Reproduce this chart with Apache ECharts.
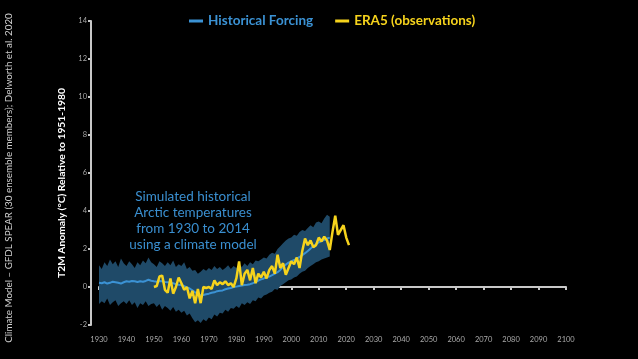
<!DOCTYPE html>
<html>
<head>
<meta charset="utf-8">
<script src="https://cdn.jsdelivr.net/npm/echarts@6/dist/echarts.min.js"></script>
<style>html,body{margin:0;padding:0;background:#000;}#c{width:638px;height:359px;}</style>
</head>
<body>
<div id="c"></div>
<script>
// ---- Data ----
var modelStartYear = 1930;
var modelMean = [
  0.22,0.20,0.25,0.18,0.22,0.28,0.25,0.22,0.18,0.25,
  0.30,0.28,0.32,0.30,0.26,0.30,0.28,0.32,0.38,0.33,
  0.30,0.28,0.32,0.30,0.26,0.25,0.22,0.20,0.15,0.12,
  0.10,0.05,-0.02,-0.08,-0.18,-0.28,-0.35,-0.45,-0.42,-0.38,
  -0.35,-0.30,-0.28,-0.22,-0.20,-0.18,-0.12,-0.08,-0.05,0.00,
  0.02,0.05,0.08,0.10,0.12,0.15,0.20,0.26,0.34,0.40,
  0.45,0.52,0.55,0.62,0.70,0.78,0.90,1.05,1.18,1.28,
  1.35,1.42,1.50,1.58,1.68,1.78,1.90,2.02,2.15,2.25,
  2.35,2.42,2.48,2.55,2.60
];
var modelUpper = [
  1.15,0.95,1.30,1.10,1.45,1.20,1.35,1.05,1.50,1.25,
  1.10,1.35,1.20,1.00,1.30,1.15,1.40,1.25,1.55,1.30,
  1.20,1.05,1.35,1.25,1.10,1.30,1.15,1.40,1.05,1.20,
  1.10,1.30,0.95,1.05,0.85,0.90,0.70,0.80,0.95,0.85,
  1.00,0.90,1.10,0.95,1.05,0.90,1.00,1.15,0.95,1.10,
  1.00,1.20,1.05,1.25,1.10,1.30,1.20,1.40,1.35,1.45,
  1.55,1.50,1.70,1.80,1.75,2.00,2.15,2.30,2.45,2.55,
  2.60,2.75,2.70,2.90,3.00,2.95,3.10,3.25,3.15,3.40,
  3.45,3.35,3.60,3.80,3.70
];
var modelLower = [
  -0.90,-0.75,-0.85,-0.60,-0.95,-0.80,-0.70,-1.00,-0.85,-0.75,
  -0.90,-0.70,-0.95,-0.80,-1.10,-0.85,-0.95,-0.75,-1.00,-0.90,
  -0.85,-1.05,-0.90,-1.20,-1.00,-1.10,-1.25,-1.05,-1.30,-1.20,
  -1.35,-1.25,-1.50,-1.40,-1.65,-1.85,-1.75,-1.90,-1.70,-1.80,
  -1.60,-1.70,-1.45,-1.55,-1.35,-1.40,-1.20,-1.30,-1.10,-1.15,
  -1.00,-1.10,-0.85,-0.95,-0.80,-0.90,-0.70,-0.75,-0.55,-0.60,
  -0.45,-0.40,-0.30,-0.25,-0.10,-0.15,0.05,0.15,0.25,0.35,
  0.40,0.50,0.55,0.70,0.80,0.85,1.00,1.10,1.20,1.30,
  1.35,1.45,1.50,1.55,1.60
];
var era5StartYear = 1950;
var era5 = [
  0.00,0.05,0.55,0.60,-0.15,-0.30,0.45,-0.35,0.00,0.50,
  0.20,-0.15,0.00,-0.60,-0.20,-0.85,-0.10,-0.85,0.00,-0.05,
  0.00,-0.10,0.35,0.10,0.25,0.15,0.30,0.10,0.20,0.00,
  0.45,1.35,0.10,0.70,0.90,0.35,1.00,0.20,0.70,0.50,
  0.80,0.45,0.90,1.10,0.70,1.70,1.00,1.25,0.65,1.00,
  1.35,1.20,1.55,1.00,1.90,2.55,2.20,2.45,2.10,2.20,
  2.60,2.40,2.65,2.45,1.95,2.90,3.75,2.75,3.00,3.25,
  2.60,2.20
];
var xTicks = {min:1930, max:2100, step:10};
var yTicks = {min:-2, max:14, step:2};
var legendNames = ['Historical Forcing','ERA5 (observations)'];

function pairs(start, arr){ return arr.map(function(v,i){ return [start+i, v]; }); }
var bandData = modelUpper.map(function(u,i){ return [modelStartYear+i, modelLower[i], u]; });

var FONT = 'Lato, "Noto Sans", sans-serif';
var BLUE = '#3b92d4', YELLOW = '#f6d31c', BAND = '#1f4a68', AXIS = '#c8c8c8';

function renderBand(params, api){
  if (params.dataIndex !== 0) return null;
  var top = [], bot = [];
  for (var i = 0; i < bandData.length; i++){
    top.push(api.coord([bandData[i][0], bandData[i][2]]));
    bot.unshift(api.coord([bandData[i][0], bandData[i][1]]));
  }
  return {type:'polygon', shape:{points:top.concat(bot)}, style:{fill:BAND}, silent:true};
}

var chart = echarts.init(document.getElementById('c'), null, {renderer:'canvas'});
chart.setOption({
  backgroundColor:'#000',
  animation:false,
  grid:{left:99, right:72, top:21, bottom:34},
  legend:{
    data:[
      {name:legendNames[0], textStyle:{color:BLUE}},
      {name:legendNames[1], textStyle:{color:YELLOW}}
    ],
    icon:'rect', itemWidth:14, itemHeight:3, itemGap:22,
    left:189, top:14, padding:0,
    textStyle:{fontSize:13.5, fontWeight:'bold', fontFamily:FONT}
  },
  xAxis:{
    type:'value', min:xTicks.min, max:xTicks.max, interval:xTicks.step, offset:7,
    axisLine:{show:true, lineStyle:{color:AXIS, width:2}},
    axisTick:{show:true, length:3, lineStyle:{color:AXIS, width:2}},
    splitLine:{show:false},
    axisLabel:{color:'#aaa', fontSize:7.5, margin:4, fontFamily:FONT,
               formatter:function(v){ return String(v); }}
  },
  yAxis:{
    type:'value', min:yTicks.min, max:yTicks.max, interval:yTicks.step, offset:8,
    axisLine:{show:true, lineStyle:{color:AXIS, width:2}},
    axisTick:{show:true, length:3, lineStyle:{color:AXIS, width:2}},
    splitLine:{show:false},
    axisLabel:{color:'#aaa', fontSize:7.5, margin:4, fontFamily:FONT}
  },
  graphic:[
    {type:'text', x:9, y:178, rotation:Math.PI/2,
     style:{text:'Climate Model \u2013 GFDL SPEAR (30 ensemble members); Delworth et al. 2020',
            fill:'#cfcfcf', font:'9.8px '+FONT, align:'center', verticalAlign:'middle'}},
    {type:'text', x:62, y:183, rotation:Math.PI/2,
     style:{text:'T2M Anomaly (\u00b0C) Relative to 1951-1980',
            fill:'#ffffff', font:'bold 10.3px '+FONT, align:'center', verticalAlign:'middle'}},
    {type:'text', x:193, y:221,
     style:{text:'Simulated historical\nArctic temperatures\nfrom 1930 to 2014\nusing a climate model',
            fill:'#3a8fd0', font:'13.5px '+FONT, align:'center', verticalAlign:'middle', lineHeight:16}}
  ],
  series:[
    {name:'band', type:'custom', data:bandData, renderItem:renderBand,
     encode:{x:0, y:[1,2]}, silent:true, z:1},
    {name:legendNames[0], type:'line', data:pairs(modelStartYear, modelMean),
     symbol:'none', lineStyle:{color:BLUE, width:2}, itemStyle:{color:BLUE}, z:3},
    {name:legendNames[1], type:'line', data:pairs(era5StartYear, era5),
     symbol:'none', lineStyle:{color:YELLOW, width:2.5}, itemStyle:{color:YELLOW}, z:4}
  ]
});
</script>
</body>
</html>
